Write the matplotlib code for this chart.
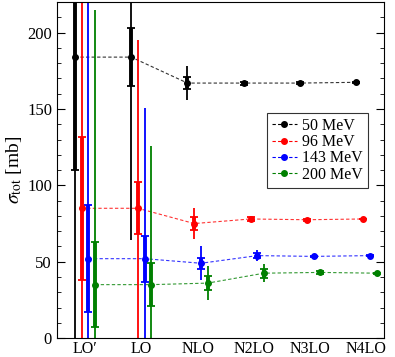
import matplotlib.pyplot as plt
import numpy as np
from matplotlib.ticker import MultipleLocator

plt.rcParams['font.family'] = ['Liberation Serif', 'DejaVu Serif']
plt.rcParams['mathtext.fontset'] = 'stix'

orders = ["LO\u2032", "LO", "NLO", "N2LO", "N3LO", "N4LO"]
energies = ["50 MeV", "96 MeV", "143 MeV", "200 MeV"]
colors = ["black", "red", "blue", "green"]

sigma_50 = [184, 184, 167, 167, 167, 167.5]
sigma_96 = [85, 85, 75, 78, 77.5, 78]
sigma_143 = [52, 52, 49, 54, 53.5, 54]
sigma_200 = [35, 35, 36, 42.5, 43, 42.5]

# inner (thick, capped) error bars
err_in_50 = [74, 19, 4, 1, 0.5, 0.3]
err_in_96 = [47, 17, 4, 1.2, 0.5, 0.3]
err_in_143 = [35, 15, 3.5, 1.5, 0.5, 0.3]
err_in_200 = [28, 14, 4.5, 3, 1, 0.3]

# outer (thin) error bars
err_out_50 = [220, 120, 11, 1.5, 0.8, 0.4]
err_out_96 = [150, 110, 10, 2, 0.8, 0.4]
err_out_143 = [200, 99, 11, 3.5, 0.8, 0.4]
err_out_200 = [180, 91, 11, 6, 1.5, 0.4]

sigmas = [sigma_50, sigma_96, sigma_143, sigma_200]
errs_in = [err_in_50, err_in_96, err_in_143, err_in_200]
errs_out = [err_out_50, err_out_96, err_out_143, err_out_200]
offsets = [-0.18, -0.06, 0.06, 0.18]

fig = plt.figure(figsize=(3.95, 3.57), dpi=100)
ax = fig.add_axes([0.144, 0.053, 0.828, 0.941])

x = np.arange(1, len(orders) + 1)
for sig, ein, eout, c, off, lab in zip(sigmas, errs_in, errs_out, colors, offsets, energies):
    xs = x + off
    ax.errorbar(xs, sig, yerr=eout, fmt='none', ecolor=c, elinewidth=1.3, capsize=0, zorder=2)
    ax.errorbar(xs, sig, yerr=ein, fmt='none', ecolor=c, elinewidth=2.8, capsize=3,
                capthick=1.3, zorder=3)
    ax.plot(xs, sig, '--', color=c, lw=0.8, alpha=0.8, dashes=(3, 2), zorder=1)
    ax.plot(xs, sig, 'o', color=c, ms=4, zorder=4)
    ax.plot([], [], '--o', color=c, lw=0.8, ms=4, dashes=(3, 2), label=lab)

ax.set_xlim(0.5, 6.31)
ax.set_ylim(0, 220)
ax.set_xticks(x)
ax.set_xticklabels(orders, fontsize=11.5)
ax.tick_params(axis='x', length=0, pad=2)
ax.yaxis.set_major_locator(MultipleLocator(50))
ax.yaxis.set_minor_locator(MultipleLocator(10))
ax.tick_params(axis='y', which='both', direction='in', right=True, labelsize=12)
ax.tick_params(axis='y', which='major', length=6)
ax.tick_params(axis='y', which='minor', length=3)
ax.set_ylabel(r"$\sigma_{\rm tot}$ [mb]", fontsize=14, labelpad=2)

leg = ax.legend(loc='upper right', bbox_to_anchor=(0.95, 0.67), fontsize=11.5,
                handlelength=1.6, handletextpad=0.3, labelspacing=0.02,
                fancybox=False, edgecolor='black', borderpad=0.3, borderaxespad=0)
leg.get_frame().set_linewidth(0.8)

fig.savefig("out.png", dpi=100)
